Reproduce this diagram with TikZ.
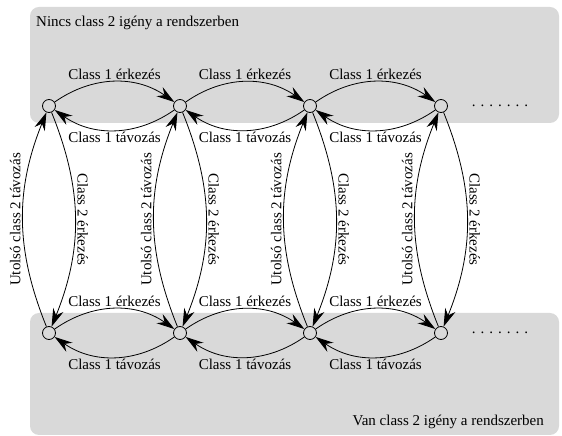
\documentclass[tikz,border=0pt]{standalone}
\usepackage{fontspec}
\setmainfont{Liberation Serif}
\newfontfamily\tmsfont{Liberation Serif}
\usetikzlibrary{arrows.meta}
\begin{document}
\begin{tikzpicture}[x=1pt,y=1pt,
  every node/.style={font=\tmsfont\fontsize{15}{18}\selectfont},
  state/.style={circle,draw,line width=0.8pt,minimum size=13pt,inner sep=0pt},
  region/.style={fill=black!15,rounded corners=9pt},
  trans/.style={line width=0.8pt,-{Stealth[length=18pt,width=11pt,inset=6pt]}},
  hlbl/.style={inner sep=2pt},
  vlbl/.style={inner sep=2pt,anchor=south}]
\useasboundingbox (0,0) rectangle (562,436);
\fill[region] (30,313) rectangle (559,429);
\fill[region] (30,1) rectangle (559,123);
\node[anchor=base west,inner sep=0pt] (t1) at (36,409) {Nincs class 2 igény a rendszerben};
\node[anchor=base east,inner sep=0pt] (t2) at (544,10) {Van class 2 igény a rendszerben};
\foreach \i/\x in {1/49,2/180,3/310,4/441}{
  \node[state] (a\i) at (\x,330) {};
  \node[state] (b\i) at (\x,103) {};
}
\node[anchor=base,inner sep=0pt] (d1) at (500,329) {. . . . . . .};
\node[anchor=base,inner sep=0pt] (d2) at (500,102) {. . . . . . .};
\foreach \i/\j in {1/2,2/3,3/4}{
  \draw[trans] (a\i) to[bend left=35] node[midway,above,hlbl] {Class 1 érkezés} (a\j);
  \draw[trans] (a\j) to[bend left=35] node[midway,below,hlbl] {Class 1 távozás} (a\i);
  \draw[trans] (b\i) to[bend left=35] node[midway,above,hlbl] {Class 1 érkezés} (b\j);
  \draw[trans] (b\j) to[bend left=35] node[midway,below,hlbl] {Class 1 távozás} (b\i);
}
\foreach \i in {1,2,3,4}{
  \draw[trans] (a\i) to[bend left=22] node[midway,vlbl,rotate=-90] {Class 2 érkezés} (b\i);
}
\foreach \i in {1,2,3,4}{
  \draw[trans] (b\i) to[bend left=22] node[midway,vlbl,rotate=90] {Utolsó class 2 távozás} (a\i);
}
\end{tikzpicture}
\end{document}
